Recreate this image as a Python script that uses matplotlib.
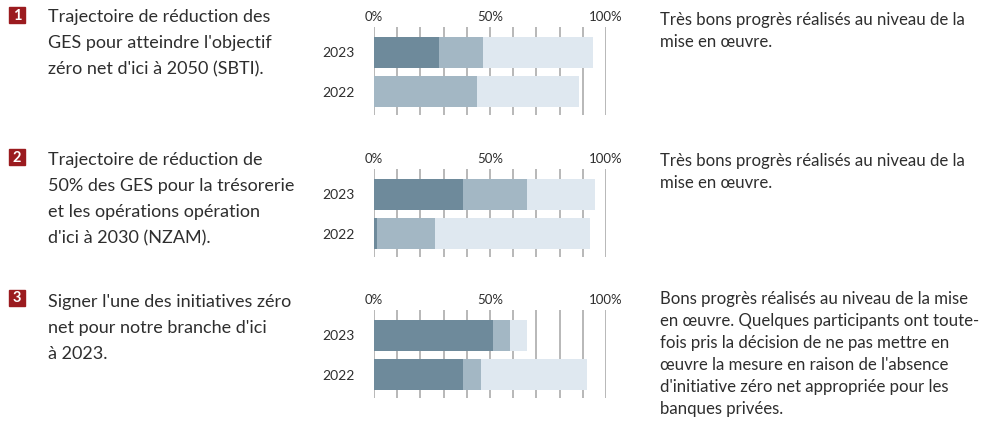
import matplotlib.pyplot as plt
import matplotlib.patches as mpatches

plt.rcParams['font.family'] = ['Lato', 'DejaVu Sans']

W, H = 989, 421

years = ['2023', '2022']
ticks = [0, 50, 100]
tick_labels = ['0%', '50%', '100%']

# segment widths (%) per panel: [2023, 2022]
dark = [[28, 0], [38.3, 1.2], [51.2, 38.2]]
mid = [[19, 44.3], [27.6, 25.3], [7.3, 7.9]]
light = [[47.5, 44], [29.4, 66.5], [7.4, 45.8]]

titles = [
    ["Trajectoire de réduction des", "GES pour atteindre l'objectif",
     "zéro net d'ici à 2050 (SBTI)."],
    ["Trajectoire de réduction de", "50% des GES pour la trésorerie",
     "et les opérations opération", "d'ici à 2030 (NZAM)."],
    ["Signer l'une des initiatives zéro", "net pour notre branche d'ici",
     "à 2023."],
]
comments = [
    ["Très bons progrès réalisés au niveau de la", "mise en œuvre."],
    ["Très bons progrès réalisés au niveau de la", "mise en œuvre."],
    ["Bons progrès réalisés au niveau de la mise",
     "en œuvre. Quelques participants ont toute-",
     "fois pris la décision de ne pas mettre en",
     "œuvre la mesure en raison de l'absence",
     "d'initiative zéro net appropriée pour les",
     "banques privées."],
]

c_dark = '#6e8a9b'
c_mid = '#a3b7c4'
c_light = '#dfe8f0'
c_grid = '#ababab'
c_text = '#2e2e2e'
c_badge = '#9b1b1f'

fig = plt.figure(figsize=(W / 100, H / 100), dpi=100)

offsets = [0, 142, 283]
title_base = [22, 165, 307]
comment_base = [25, 166, 304]


def fy(py):
    return 1 - py / H


for i, off in enumerate(offsets):
    # bar panel
    top, bot = 27 + off, 115 + off
    ax = fig.add_axes([374 / W, fy(bot), 232 / W, (bot - top) / H])
    ax.set_xlim(0, 100)
    ax.set_ylim(1.6, -0.65)
    for x in range(0, 101, 10):
        ax.axvline(x, color=c_grid, lw=1.2, zorder=0)
    ypos = range(len(years))
    left = [0] * len(years)
    for seg, col in ((dark[i], c_dark), (mid[i], c_mid), (light[i], c_light)):
        ax.barh(ypos, seg, left=left, height=0.8, color=col, zorder=2)
        left = [a + b for a, b in zip(left, seg)]
    ax.set_yticks(list(ypos))
    ax.set_yticklabels(years, fontsize=10, color=c_text)
    ax.xaxis.tick_top()
    ax.set_xticks(ticks)
    ax.set_xticklabels(tick_labels, fontsize=9.5, color=c_text)
    ax.tick_params(axis='x', length=0, pad=3)
    ax.tick_params(axis='y', length=0, pad=14)
    for s in ax.spines.values():
        s.set_visible(False)

    # badge
    fig.patches.append(mpatches.Rectangle((9 / W, fy(23 + off)), 16 / W, 16 / H,
                                          transform=fig.transFigure,
                                          color=c_badge, zorder=3))
    fig.text(17 / W, fy(15.5 + off), str(i + 1), color='white', fontsize=10.5,
             fontweight='bold', ha='center', va='center')

    # left description
    for k, line in enumerate(titles[i]):
        fig.text(48 / W, fy(title_base[i] + 26 * k), line, fontsize=13,
                 color=c_text, va='baseline', ha='left')

    # right comment
    for k, line in enumerate(comments[i]):
        fig.text(660 / W, fy(comment_base[i] + 22 * k), line, fontsize=12.1,
                 color=c_text, va='baseline', ha='left')

fig.savefig('out.png', dpi=100)
